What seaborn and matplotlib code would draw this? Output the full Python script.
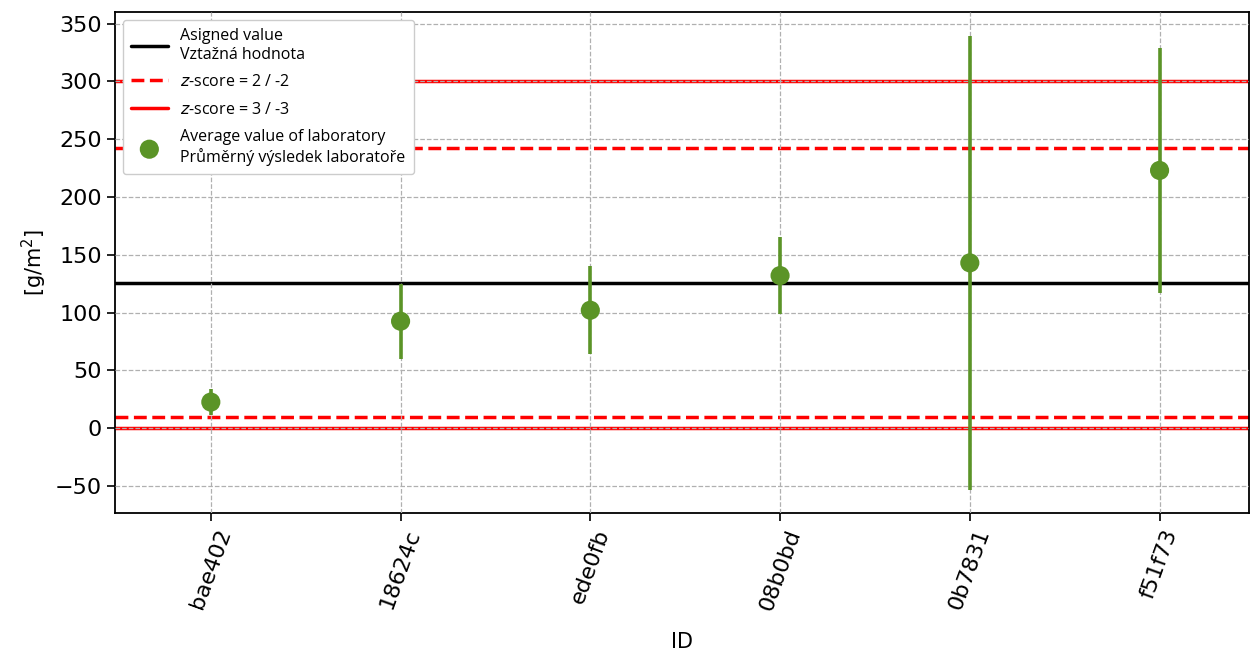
import seaborn as sns
import matplotlib.pyplot as plt
import pandas as pd
import numpy as np

# Values
lab_ids = ['bae402', '18624c', 'ede0fb', '08b0bd', '0b7831', 'f51f73']
lab_means = [22.5, 92.5, 102.0, 132.0, 143.0, 223.0]
lab_errs = [11.0, 32.5, 38.0, 33.0, 196.5, 106.0]

assigned_value = 125.8
z2_limits = [9.6, 242.0]
z3_limits = [0.0, 300.0]

df = pd.DataFrame({"ID": lab_ids, "value": lab_means, "err": lab_errs})

sns.set_style("ticks", {'axes.edgecolor': 'black', 'text.color': 'black',
                        'xtick.color': 'black', 'ytick.color': 'black',
                        'axes.labelcolor': 'black'})
green = '#5b9427'

fig = plt.figure(figsize=(12.5, 6.53), dpi=100)
ax = fig.add_axes([0.092, 0.2144, 0.907, 0.767])

ax.set_axisbelow(False)
ax.grid(True, linestyle='--', color='#b0b0b0', linewidth=0.9)

ax.axhline(assigned_value, color='black', linewidth=2.5, zorder=2,
           label='Asigned value\nVztažná hodnota')
for i, v in enumerate(z2_limits):
    ax.axhline(v, color='red', linestyle='--', linewidth=2.5, zorder=2,
               label='$z$-score = 2 / -2' if i == 0 else None)
for i, v in enumerate(z3_limits):
    ax.axhline(v, color='red', linestyle='-', linewidth=2.5, zorder=1,
               label='$z$-score = 3 / -3' if i == 0 else None)

ax.errorbar(df["ID"], df["value"], yerr=df["err"], fmt='none',
            ecolor=green, elinewidth=2.6, capsize=0, zorder=3)
sns.scatterplot(data=df, x="ID", y="value", ax=ax, color=green, s=190,
                edgecolor='none', zorder=4,
                label='Average value of laboratory\nPrůměrný výsledek laboratoře')

ax.set_xlim(-0.505, 5.47)
ax.set_ylim(-73.5, 360)
ax.set_yticks(np.arange(-50, 351, 50))
ax.tick_params(axis='both', labelsize=16, length=6, width=1.2)
plt.setp(ax.get_xticklabels(), rotation=70, ha='center', va='top')
for sp in ax.spines.values():
    sp.set_linewidth(1.3)

ax.set_xlabel("ID", fontsize=15, labelpad=14)
ax.set_ylabel("[g/m$^2$]", fontsize=15)

leg = ax.legend(loc='upper left', prop={'family': 'Open Sans', 'size': 11.5},
                framealpha=1, borderpad=0.5, handlelength=2.3,
                labelspacing=0.72)

plt.savefig("out.png", dpi=100)
plt.close()
